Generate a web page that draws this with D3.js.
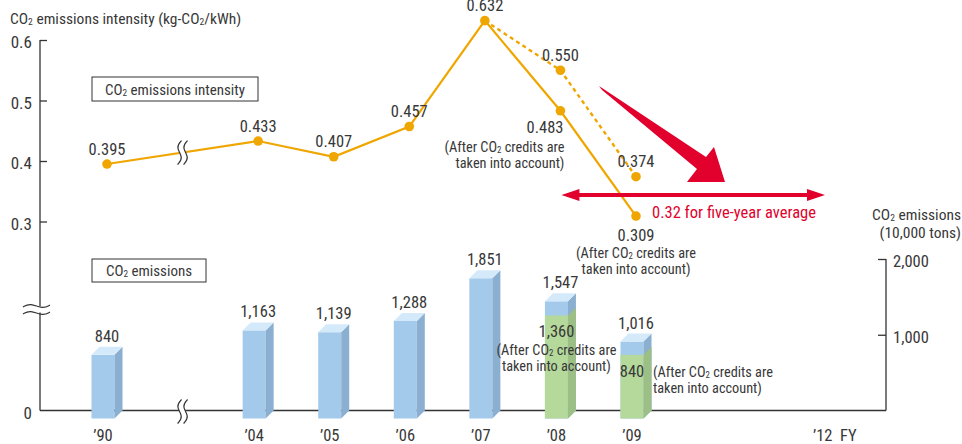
<!DOCTYPE html>
<html><head><meta charset="utf-8">
<script src="https://cdn.jsdelivr.net/npm/d3@7"></script>
<style>
html,body{margin:0;padding:0;background:#fff;}
svg{display:block;}
text{font-family:"Liberation Sans Narrow","Roboto Condensed","DejaVu Sans Condensed",sans-serif;font-stretch:condensed;fill:#383838;}
</style></head><body>
<svg id="c" width="962" height="444"></svg>
<script>
// ---- data ----
const categories = ['1990','break','2004','2005','2006','2007','2008','2009'];
const years = ['1990','2004','2005','2006','2007','2008','2009'];
const yearLabels = ['’90','’04','’05','’06','’07','’08','’09'];
const emissions = [840, 1163, 1139, 1288, 1851, 1547, 1016];
const emissionsAfterCredits = [null, null, null, null, null, 1360, 840];
const intensity = [0.395, 0.433, 0.407, 0.457, 0.632, 0.483, 0.309];
const intensityBeforeYears = ['2007','2008','2009'];
const intensityBefore = [0.632, 0.550, 0.374];
const leftTicks = [0.3, 0.4, 0.5, 0.6];
const rightTicks = [1000, 2000];
const fiveYearAverage = 0.32;

const svg = d3.select('#c');
const ORANGE = '#F0A600', RED = '#E2002D', AX = '#333';
const x = d3.scalePoint().domain(categories).range([107, 636]);
const step = x.step();
const yL = d3.scaleLinear().domain([0.3, 0.6]).range([221.5, 40]);
const yR = d3.scaleLinear().domain([0, 2000]).range([410.5, 259]);
const base = yR(0);
const bw = 23, dep = 8;

// text with CO₂-style subscripts
function rich(parent, str){
  const parts = str.split('₂');
  parts.forEach((p,i)=>{
    if(i>0) parent.append('tspan').attr('font-size','0.62em').attr('dy',1).text('2');
    const t = parent.append('tspan').text(p);
    if(i>0) t.attr('dy',-1);
  });
  return parent;
}
function label(x0,y0,str,size,anchor){
  const t = svg.append('text').attr('x',x0).attr('y',y0).attr('text-anchor',anchor||'start').style('font-size',size+'px');
  return rich(t,str);
}
function multi(x0,y0,lines,size,anchor,lh){
  const t = svg.append('text').attr('text-anchor',anchor||'start').style('font-size',size+'px');
  lines.forEach((ln,i)=>{
    const s = t.append('tspan').attr('x',x0).attr('y',y0+i*lh);
    rich(s,ln);
  });
  return t;
}

// ---- axes ----
svg.append('line').attr('x1',40).attr('x2',40).attr('y1',yL(0.6)).attr('y2',base).attr('stroke',AX).attr('stroke-width',1.3);
const la = svg.append('g').attr('transform','translate(40,0)')
  .call(d3.axisRight(yL).tickValues(leftTicks).tickSize(7).tickFormat(''));
la.select('.domain').remove();
la.selectAll('line').attr('stroke',AX).attr('stroke-width',1.3);
svg.selectAll('.ltl').data(leftTicks).join('text').attr('x',32).attr('y',d=>yL(d)+8)
  .attr('text-anchor','end').style('font-size','17px').text(d=>d.toFixed(1));
svg.append('text').attr('x',32).attr('y',base+8).attr('text-anchor','end').style('font-size','17px').text('0');

// baseline
svg.append('line').attr('x1',40).attr('x2',886).attr('y1',base).attr('y2',base).attr('stroke',AX).attr('stroke-width',1.3);
// right axis
const ra = svg.append('g').attr('transform','translate(886,0)')
  .call(d3.axisLeft(yR).tickValues(rightTicks).tickSize(8).tickFormat(''));
ra.select('.domain').remove();
ra.selectAll('line').attr('stroke',AX).attr('stroke-width',1.3);
svg.append('line').attr('x1',886).attr('x2',886).attr('y1',yR(2000)).attr('y2',base).attr('stroke',AX).attr('stroke-width',1.3);
svg.selectAll('.rtl').data(rightTicks).join('text').attr('x',893).attr('y',d=>yR(d)+8)
  .style('font-size','16.5px').text(d=>d3.format(',')(d));
multi(961,220,['CO₂ emissions','(10,000 tons)'],15.5,'end',18);

// title
label(10,24,'CO₂ emissions intensity (kg-CO₂/kWh)',15.5);

// x labels
svg.selectAll('.xl').data(years).join('text').attr('x',d=>x(d)-4).attr('y',441)
  .attr('text-anchor','middle').style('font-size','16.5px').text((d,i)=>yearLabels[i]);
svg.append('text').attr('x',x('2009')+2.5*step-12).attr('y',441).attr('xml:space','preserve')
  .style('font-size','16.5px').text('’12  FY');

// legend boxes
function box(x0,y0,w,h,t){
  svg.append('rect').attr('x',x0).attr('y',y0).attr('width',w).attr('height',h).attr('fill','#fff').attr('stroke',AX).attr('stroke-width',1);
  label(x0+w/2,y0+h-6,t,15,'middle');
}
box(92,77,166,24,'CO₂ emissions intensity');
box(92,259,114,23,'CO₂ emissions');

// ---- bars ----
const BLUE={front:'#A3C9EB',side:'#8AAFD0',top:'#D4EAFA'};
const GREEN={front:'#B5D89B',side:'#9CBF85'};
const g = svg.append('g');
years.forEach((yr,i)=>{
  const cx = x(yr), fl = cx-4-bw/2, v = emissions[i], yt = yR(v);
  const after = emissionsAfterCredits[i];
  g.append('rect').attr('x',fl).attr('y',yt+dep).attr('width',bw).attr('height',base-yt).attr('fill',BLUE.front);
  g.append('polygon').attr('points',[[fl+bw,yt+dep],[fl+bw+dep,yt],[fl+bw+dep,base],[fl+bw,base+dep]].join(' ')).attr('fill',BLUE.side);
  if(after!=null){
    const ya = yR(after);
    g.append('rect').attr('x',fl).attr('y',ya+dep).attr('width',bw).attr('height',base-ya).attr('fill',GREEN.front);
    g.append('polygon').attr('points',[[fl+bw,ya+dep],[fl+bw+dep,ya],[fl+bw+dep,base],[fl+bw,base+dep]].join(' ')).attr('fill',GREEN.side);
  }
  g.append('polygon').attr('points',[[fl,yt+dep],[fl+bw,yt+dep],[fl+bw+dep,yt],[fl+dep,yt]].join(' ')).attr('fill',BLUE.top);
  svg.append('text').attr('x',cx).attr('y',yt-5).attr('text-anchor','middle').style('font-size','16.5px').text(d3.format(',')(v));
  if(after!=null){
    svg.append('text').attr('x',cx-4).attr('y',yR(after)+30).attr('text-anchor','middle').style('font-size','16.5px').text(d3.format(',')(after));
  }
});

// ---- break marks ----
const sPath = d3.line().curve(d3.curveBasis);
function sBreak(cx, cy){
  const pts = o=>[[cx+o+2,cy-12],[cx+o-4,cy-5],[cx+o+4,cy+5],[cx+o-2,cy+12]];
  svg.append('path').attr('d',sPath(pts(0))).attr('fill','none').attr('stroke','#fff').attr('stroke-width',6);
  svg.append('path').attr('d',sPath(pts(-3))).attr('fill','none').attr('stroke',AX).attr('stroke-width',1.2);
  svg.append('path').attr('d',sPath(pts(3))).attr('fill','none').attr('stroke',AX).attr('stroke-width',1.2);
}
function tildeBreak(cx, cy){
  const pts = o=>[[cx-14,cy+o+1],[cx-7,cy+o-3],[cx+6,cy+o+3],[cx+13,cy+o-1]];
  svg.append('rect').attr('x',cx-14).attr('y',cy-3).attr('width',27).attr('height',6).attr('fill','#fff');
  svg.append('path').attr('d',sPath(pts(-3.5))).attr('fill','none').attr('stroke',AX).attr('stroke-width',1.2);
  svg.append('path').attr('d',sPath(pts(3.5))).attr('fill','none').attr('stroke',AX).attr('stroke-width',1.2);
}

// ---- intensity lines ----
const line = d3.line().x(d=>d[0]).y(d=>d[1]);
const mainPts = years.map((yr,i)=>[x(yr), yL(intensity[i])]);
svg.append('path').attr('d',line(mainPts)).attr('fill','none').attr('stroke',ORANGE).attr('stroke-width',2.2);
const dashPts = intensityBeforeYears.map((yr,i)=>[x(yr), yL(intensityBefore[i])]);
svg.append('path').attr('d',line(dashPts)).attr('fill','none').attr('stroke',ORANGE).attr('stroke-width',2.4).attr('stroke-dasharray','4,3.5');

const bx = x('break');
sBreak(bx, (yL(intensity[0])+yL(intensity[1]))/2);
sBreak(bx, base+1);
tildeBreak(37, 309.5);

svg.selectAll('.dot').data(mainPts.concat(dashPts.slice(1))).join('circle')
  .attr('cx',d=>d[0]).attr('cy',d=>d[1]).attr('r',4.8).attr('fill',ORANGE);

// intensity labels
const f3 = d3.format('.3f');
years.forEach((yr,i)=>{
  const px = x(yr), py = yL(intensity[i]);
  let t = svg.append('text').style('font-size','16.5px').text(f3(intensity[i]));
  if(yr==='2008'){ t.attr('x',px+3).attr('y',py+22).attr('text-anchor','end'); }
  else if(yr==='2009'){ t.attr('x',px).attr('y',py+25).attr('text-anchor','middle'); }
  else { t.attr('x',px).attr('y',py-9.5).attr('text-anchor','middle'); }
});
intensityBeforeYears.slice(1).forEach((yr,i)=>{
  svg.append('text').attr('x',x(yr)).attr('y',yL(intensityBefore[i+1])-9.5)
    .attr('text-anchor','middle').style('font-size','16.5px').text(f3(intensityBefore[i+1]));
});

// "after credits" notes
const NOTE = ['(After CO₂ credits are','taken into account)'];
multi(x('2008')+4, yL(intensity[5])+41, NOTE, 14.3, 'end', 16);
multi(x('2009'), yL(intensity[6])+42, NOTE, 14.3, 'middle', 16);
multi(x('2008')-4, yR(emissionsAfterCredits[5])+48, NOTE, 14.3, 'middle', 16);
multi(x('2009')+17, yR(emissionsAfterCredits[6])+30, NOTE, 14.3, 'start', 16);

// ---- red arrows ----
svg.append('polygon').attr('fill',RED)
  .attr('points',[[599,86],[706,157],[714,147],[725,182],[687,182],[697,169],[602,90]].join(' '));
const ay = 195, ax0 = x('2008')+1, ax1 = 825;
svg.append('line').attr('x1',ax0+16).attr('x2',ax1-16).attr('y1',ay).attr('y2',ay).attr('stroke',RED).attr('stroke-width',4);
svg.append('polygon').attr('fill',RED).attr('points',[[ax0,ay],[ax0+18,ay-6],[ax0+18,ay+6]].join(' '));
svg.append('polygon').attr('fill',RED).attr('points',[[ax1,ay],[ax1-18,ay-6],[ax1-18,ay+6]].join(' '));
svg.append('text').attr('x',652).attr('y',217.5).style('font-size','16.5px').style('fill',RED)
  .text(fiveYearAverage.toFixed(2)+' for five-year average');
</script></body></html>
